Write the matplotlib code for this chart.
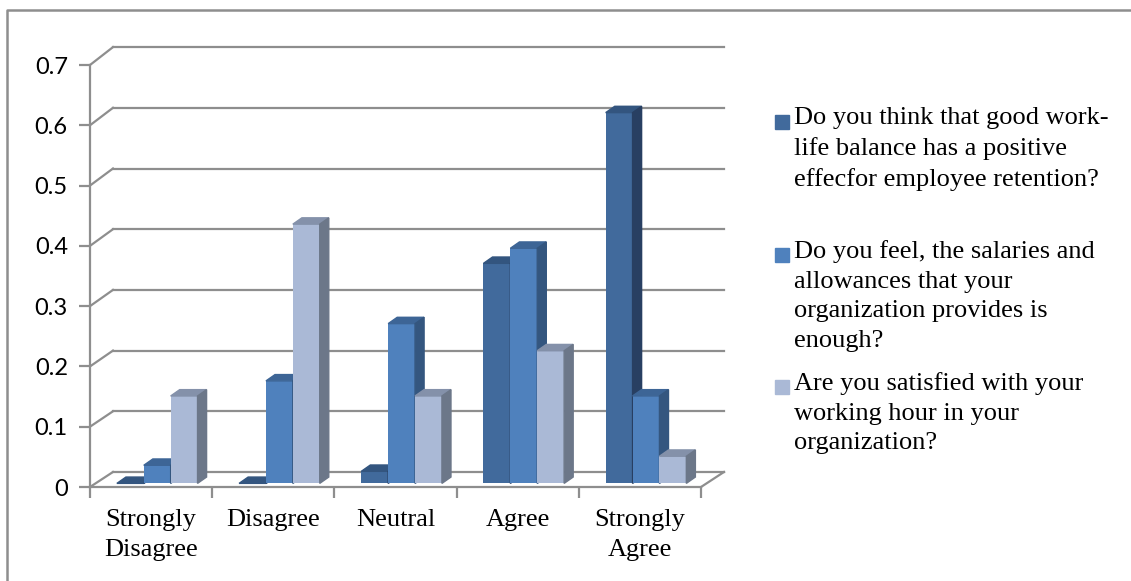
import numpy as np
import matplotlib.pyplot as plt
from matplotlib.patches import Polygon, Rectangle
from matplotlib.lines import Line2D

categories = ["Strongly\nDisagree", "Disagree", "Neutral", "Agree", "Strongly\nAgree"]
work_life = [0.0, 0.0, 0.02, 0.365, 0.615]
salaries = [0.03, 0.17, 0.265, 0.39, 0.145]
working_hours = [0.145, 0.43, 0.145, 0.22, 0.045]

series_labels = [
    "Do you think that good work-\nlife balance has a positive\neffecfor employee retention?",
    "Do you feel, the salaries and\nallowances that your\norganization provides is\nenough?",
    "Are you satisfied with your\nworking hour in your\norganization?",
]
yticks = [0, 0.1, 0.2, 0.3, 0.4, 0.5, 0.6, 0.7]
ytick_labels = ["0", "0.1", "0.2", "0.3", "0.4", "0.5", "0.6", "0.7"]

# front / top / side shades for each series
colors = [
    ("#416a9c", "#33557f", "#283f62"),
    ("#4f81bd", "#3d6596", "#34567f"),
    ("#aab9d6", "#8491aa", "#6c7789"),
]
grid_col = "#8e8e8e"

W, H = 1131, 581
fig = plt.figure(figsize=(W / 100, H / 100), dpi=100)
ax = fig.add_axes([90 / W, (H - 487) / H, 611 / W, 422 / H])
ax.set_xlim(0, 5)
ax.set_ylim(0, 0.7)

# perspective offsets for the back wall and the bar depth
wall_dx = 0.188


def wall_y(v):
    return 0.0249 + 1.0068 * v


bar_w = 0.22
bar_dx, bar_dy = 0.074, 0.0105
bar_base = 0.006

# back wall gridlines plus the short diagonals back from the front axis
for v in yticks:
    ax.plot([wall_dx, 5 + wall_dx], [wall_y(v), wall_y(v)], color=grid_col, lw=1.6,
            clip_on=False, zorder=1)
    ax.plot([0, wall_dx], [v, wall_y(v)], color=grid_col, lw=1.6, clip_on=False, zorder=1)
ax.plot([5, 5 + wall_dx], [0, wall_y(0)], color=grid_col, lw=1.6, clip_on=False, zorder=1)

x = np.arange(len(categories))
for k, vals in enumerate([work_life, salaries, working_hours]):
    front, top, side = colors[k]
    lefts = x + 0.22 + k * bar_w
    ax.bar(lefts, vals, width=bar_w, bottom=bar_base, align="edge", color=front,
           clip_on=False, zorder=3 + k, label=series_labels[k])
    for x0, v in zip(lefts, vals):
        y1 = bar_base + v
        ax.add_patch(Polygon([(x0, y1), (x0 + bar_w, y1), (x0 + bar_w + bar_dx, y1 + bar_dy),
                              (x0 + bar_dx, y1 + bar_dy)], closed=True, color=top,
                             clip_on=False, zorder=3 + k))
        ax.add_patch(Polygon([(x0 + bar_w, bar_base), (x0 + bar_w + bar_dx, bar_base + bar_dy),
                              (x0 + bar_w + bar_dx, y1 + bar_dy), (x0 + bar_w, y1)], closed=True,
                             color=side, clip_on=False, zorder=3 + k))

for s in ["top", "right"]:
    ax.spines[s].set_visible(False)
for s in ["left", "bottom"]:
    ax.spines[s].set_color(grid_col)
    ax.spines[s].set_linewidth(1.6)
    ax.spines[s].set_zorder(10)

ax.set_yticks(yticks, ytick_labels, family="Lato", fontsize=17)
ax.set_xticks(np.arange(6), [""] * 6)
ax.set_xticks(x + 0.5, categories, minor=True, family="Liberation Serif", fontsize=19)
for lbl in ax.get_xticklabels(minor=True):
    lbl.set_linespacing(1.45)
ax.tick_params(which="major", direction="out", length=8, width=1.6, color=grid_col)
ax.tick_params(axis="y", pad=8)
ax.tick_params(which="minor", length=0, pad=16)
ax.set_facecolor("none")

# legend drawn as squares and wrapped text
leg_y = [122, 255, 387]
for k, yy in enumerate(leg_y):
    fig.add_artist(Rectangle((775 / W, (H - yy - 7) / H), 14 / W, 14 / H,
                             transform=fig.transFigure, color=colors[k][0]))
    fig.text(794 / W, (H - yy + 15) / H, series_labels[k], family="Liberation Serif",
             fontsize=19, va="top", ha="left", linespacing=1.45)

# outer frame on the left and top
fig.add_artist(Line2D([7 / W, 7 / W, 1], [0, 1 - 10 / H, 1 - 10 / H],
                      transform=fig.transFigure, color=grid_col, lw=1.8))

fig.savefig("out.png", dpi=100)
